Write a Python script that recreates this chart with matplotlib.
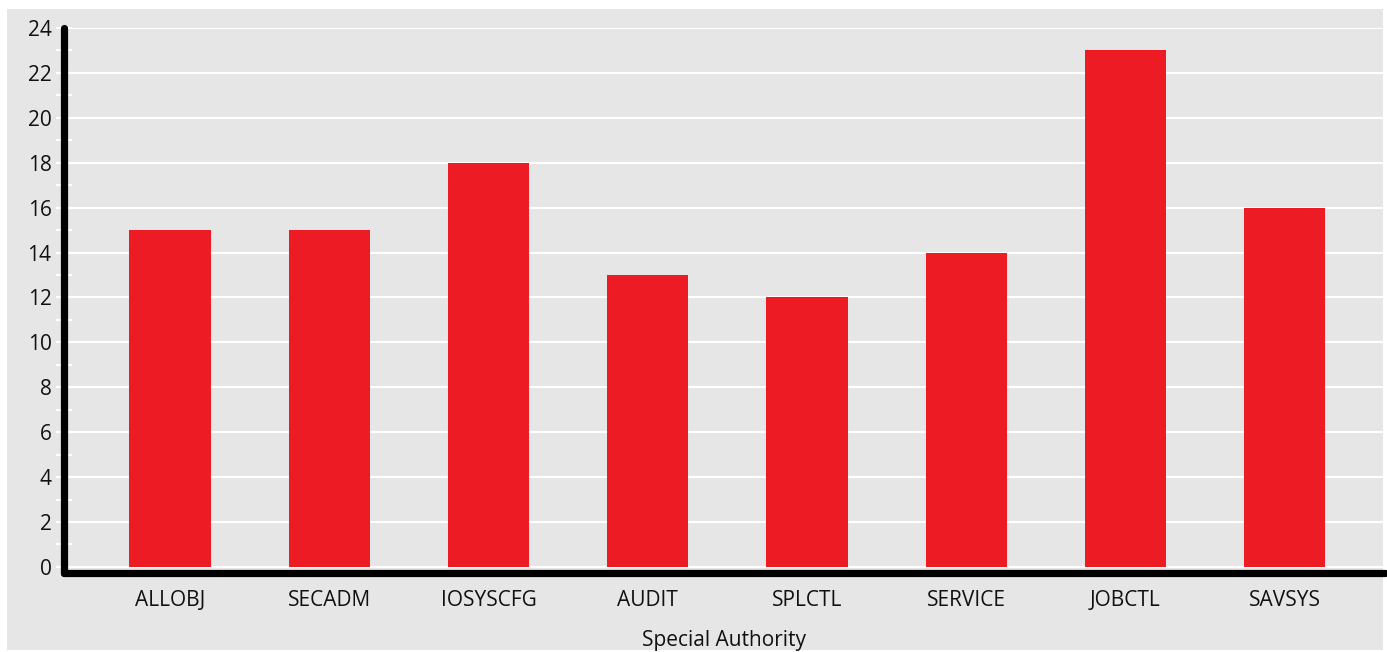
import matplotlib.pyplot as plt
from matplotlib.patches import Rectangle
from matplotlib.ticker import MultipleLocator

categories = ['ALLOBJ', 'SECADM', 'IOSYSCFG', 'AUDIT', 'SPLCTL', 'SERVICE', 'JOBCTL', 'SAVSYS']
counts = [15, 15, 18, 13, 12, 14, 23, 16]
yticks = list(range(0, 25, 2))

W, H = 1387, 652
plt.rcParams['font.family'] = ['Open Sans', 'DejaVu Sans']

fig = plt.figure(figsize=(W / 100, H / 100), dpi=100)
fig.patch.set_facecolor('white')
# grey panel behind everything
fig.patches.append(Rectangle((7 / W, 2 / H), 1376 / W, 641 / H, transform=fig.transFigure,
                             facecolor='#e6e6e6', edgecolor='none', zorder=-10))

ax = fig.add_axes([64 / W, (H - 573) / H, (1385 - 64) / W, (573 - 28) / H])
ax.set_facecolor('none')

x = list(range(len(categories)))
ax.bar(x, counts, width=0.51, color='#ed1c24', zorder=3)

ax.set_xlim(-0.665, 7.63)
ax.set_ylim(-0.27, 24)
ax.set_yticks(yticks)
ax.yaxis.set_minor_locator(MultipleLocator(1))
ax.grid(axis='y', which='major', color='white', linewidth=1.5, zorder=1)

for s in ['top', 'right']:
    ax.spines[s].set_visible(False)
for s in ['left', 'bottom']:
    ax.spines[s].set_linewidth(5.2)
    ax.spines[s].set_color('black')
    ax.spines[s].set_capstyle('round')
    ax.spines[s].set_zorder(5)

ax.tick_params(axis='y', which='both', direction='inout', length=12, width=1.5, color='white',
               labelsize=15, pad=3, labelcolor='#111111')
ax.tick_params(axis='x', length=0, labelsize=15, pad=12, labelcolor='#111111')
ax.set_xticks(x)
ax.set_xticklabels(categories)
ax.set_xlabel('Special Authority', fontsize=15, labelpad=14, color='#111111')

fig.savefig('out.png', dpi=100)
